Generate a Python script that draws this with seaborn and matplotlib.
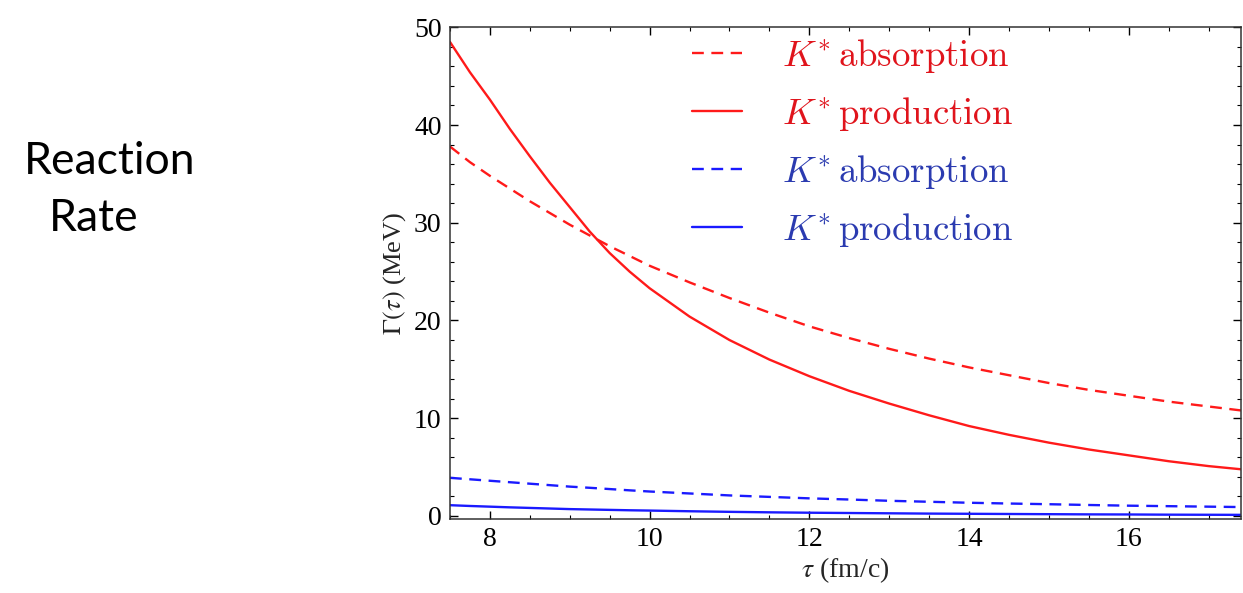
import numpy as np
import pandas as pd
import matplotlib
matplotlib.use("Agg")
import matplotlib.pyplot as plt
import seaborn as sns
from matplotlib.ticker import MultipleLocator
from matplotlib.font_manager import FontProperties

# ---- data ----
tau = [7.5, 7.75, 8, 8.25, 8.5, 8.75, 9, 9.25, 9.5, 9.75, 10, 10.5, 11, 11.5,
       12, 12.5, 13, 13.5, 14, 14.5, 15, 15.5, 16, 16.5, 17, 17.5]
red_absorption = [37.8, 36.2, 34.8, 33.5, 32.2, 31.0, 29.8, 28.7, 27.6, 26.6,
                  25.6, 23.9, 22.3, 20.8, 19.4, 18.2, 17.1, 16.1, 15.2, 14.4,
                  13.6, 12.9, 12.3, 11.7, 11.2, 10.7]
red_production = [48.5, 45.4, 42.6, 39.6, 36.8, 34.1, 31.6, 29.1, 26.9, 25.0,
                  23.3, 20.4, 18.0, 16.0, 14.3, 12.8, 11.5, 10.3, 9.2, 8.3,
                  7.5, 6.8, 6.2, 5.6, 5.1, 4.7]
blue_absorption = [3.9, 3.75, 3.6, 3.45, 3.3, 3.15, 3.0, 2.88, 2.75, 2.62,
                   2.5, 2.3, 2.1, 1.95, 1.8, 1.68, 1.55, 1.45, 1.35, 1.27,
                   1.2, 1.12, 1.05, 1.0, 0.95, 0.9]
blue_production = [1.1, 1.02, 0.95, 0.88, 0.82, 0.76, 0.7, 0.66, 0.62, 0.58,
                   0.55, 0.48, 0.42, 0.37, 0.33, 0.3, 0.27, 0.24, 0.22, 0.2,
                   0.18, 0.16, 0.15, 0.13, 0.12, 0.11]
labels = [r"$K^{*}\,\mathrm{absorption}$", r"$K^{*}\,\mathrm{production}$",
          r"$K^{*}\,\mathrm{absorption}$", r"$K^{*}\,\mathrm{production}$"]
x_ticks = [8, 10, 12, 14, 16]
y_ticks = [0, 10, 20, 30, 40, 50]

sns.set_theme(style="ticks")
plt.rcParams["font.family"] = ["Liberation Serif", "DejaVu Serif"]
plt.rcParams["mathtext.fontset"] = "stix"

fig = plt.figure(figsize=(12.43, 5.93), dpi=100)
ax = fig.add_axes([0.362, 0.125, 0.636, 0.829])

RED = "#ff1a1a"
BLUE = "#1a1aff"
series = [(red_absorption, RED, (0, (5, 3.2))),
          (red_production, RED, "-"),
          (blue_absorption, BLUE, (0, (5, 3.2))),
          (blue_production, BLUE, "-")]
for (vals, col, ls), lab in zip(series, labels):
    sns.lineplot(x=tau, y=vals, ax=ax, color=col, linestyle=ls, linewidth=1.7,
                 label=lab)

ax.set_xlim(7.5, 17.4)
ax.set_ylim(-0.3, 50)
ax.set_xticks(x_ticks)
ax.set_yticks(y_ticks)
ax.xaxis.set_minor_locator(MultipleLocator(0.5))
ax.yaxis.set_minor_locator(MultipleLocator(2))
ax.tick_params(which="both", direction="in", top=True, right=True,
               colors="black", labelsize=20, pad=6)
ax.tick_params(which="major", length=6, width=1)
ax.tick_params(which="minor", length=3, width=0.8)
for s in ax.spines.values():
    s.set_visible(True)
    s.set_color("#333333")
    s.set_linewidth(1.1)

ax.set_xlabel(r"$\tau$ (fm/c)", fontsize=20, labelpad=2)
ax.set_ylabel(r"$\Gamma(\tau)$ (MeV)", fontsize=19, labelpad=4)

leg_font = FontProperties(family="DejaVu Serif", size=26.5, math_fontfamily="cm")
leg = ax.legend(loc="upper left", bbox_to_anchor=(0.287, 1.01), frameon=False,
                prop=leg_font, handlelength=1.36, handletextpad=1.09,
                labelspacing=0.54, borderaxespad=0.0)
text_cols = ["#e0141c", "#e0141c", "#2b3bb0", "#2b3bb0"]
for t, c in zip(leg.get_texts(), text_cols):
    t.set_color(c)

fig.text(0.0885, 0.727, "Reaction", fontsize=32, ha="center", va="center",
         color="black", family=["Lato", "DejaVu Sans"])
fig.text(0.075, 0.632, "Rate", fontsize=32, ha="center", va="center",
         color="black", family=["Lato", "DejaVu Sans"])

fig.savefig("out.png", dpi=100)
